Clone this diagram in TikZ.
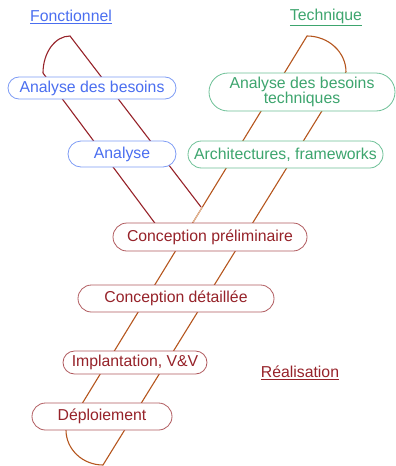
\documentclass[tikz,border=0pt]{standalone}
\usepackage{fontspec}
\setmainfont{Liberation Sans}
\usepackage{xcolor}
\usetikzlibrary{positioning,shapes.misc}

\definecolor{bleu}{HTML}{4A6EF0}
\definecolor{bleuclair}{HTML}{7E9CF5}
\definecolor{vert}{HTML}{3DA56E}
\definecolor{vertclair}{HTML}{6CC096}
\definecolor{rouge}{HTML}{962229}
\definecolor{rougeclair}{HTML}{B05A5E}
\definecolor{brun}{HTML}{B5561E}
\definecolor{beige}{HTML}{E3B896}

\tikzset{
	etape/.style={rounded rectangle,draw,fill=white,line width=0.8pt,inner sep=0pt,
		font=\fontsize{15.8}{17}\selectfont},
	fonct/.style={etape,draw=bleuclair,text=bleu},
	techn/.style={etape,draw=vertclair,text=vert,align=center},
	real/.style={etape,draw=rougeclair,text=rouge},
	titre/.style={font=\fontsize{15.8}{17}\selectfont}
}

\begin{document}
\begin{tikzpicture}[x=1pt,y=-1pt]
		\useasboundingbox (0,0) rectangle (396,466);
		% branche fonctionnelle
		\draw[rouge,line width=1.1pt] (43,73) .. controls (43,52.6) and (55.1,36) .. (70,36) -- (201,207);
		\draw[rouge,line width=1.1pt] (43,73) -- (160,230);
		% branche technique et realisation
		\draw[brun,line width=1.1pt] (346,72) .. controls (346,52.1) and (328.5,36) .. (307,36) -- (66,430)
			.. controls (66,449.3) and (82.6,465) .. (103,465) -- (346,72);
		\draw[beige,line width=1.1pt] (202.4,207) -- (193,222.5);
		% titres
		\node[titre,text=bleu] (fonctionnel) at (71,17) {\underline{Fonctionnel}};
		\node[titre,text=vert] (technique) at (326,17) {\underline{Technique}};
		\node[titre,text=rouge] (realisation) at (300,373) {\underline{Réalisation}};
		% etapes
		\node[fonct,minimum width=168pt,minimum height=22pt] (besoinsF) at (92,88) {Analyse des besoins};
		\node[fonct,minimum width=108pt,minimum height=26pt] (analyse) at (122,154) {Analyse};
		\node[techn,minimum width=186pt,minimum height=38pt] (besoinsT) at (302,92) {Analyse des besoins\\[-2pt]techniques};
		\node[techn,minimum width=195pt,minimum height=27pt] (archi) at (285.5,154.5) {Architectures, frameworks};
		\node[real,minimum width=194pt,minimum height=28pt] (prelim) at (210,237) {Conception préliminaire};
		\node[real,minimum width=196pt,minimum height=27pt] (detail) at (176,298.5) {Conception détaillée};
		\node[real,minimum width=144pt,minimum height=23pt] (impl) at (135,362.5) {Implantation, V\&V};
		\node[real,minimum width=140pt,minimum height=27pt] (deploi) at (102,416.5) {Déploiement};
\end{tikzpicture}
\end{document}
